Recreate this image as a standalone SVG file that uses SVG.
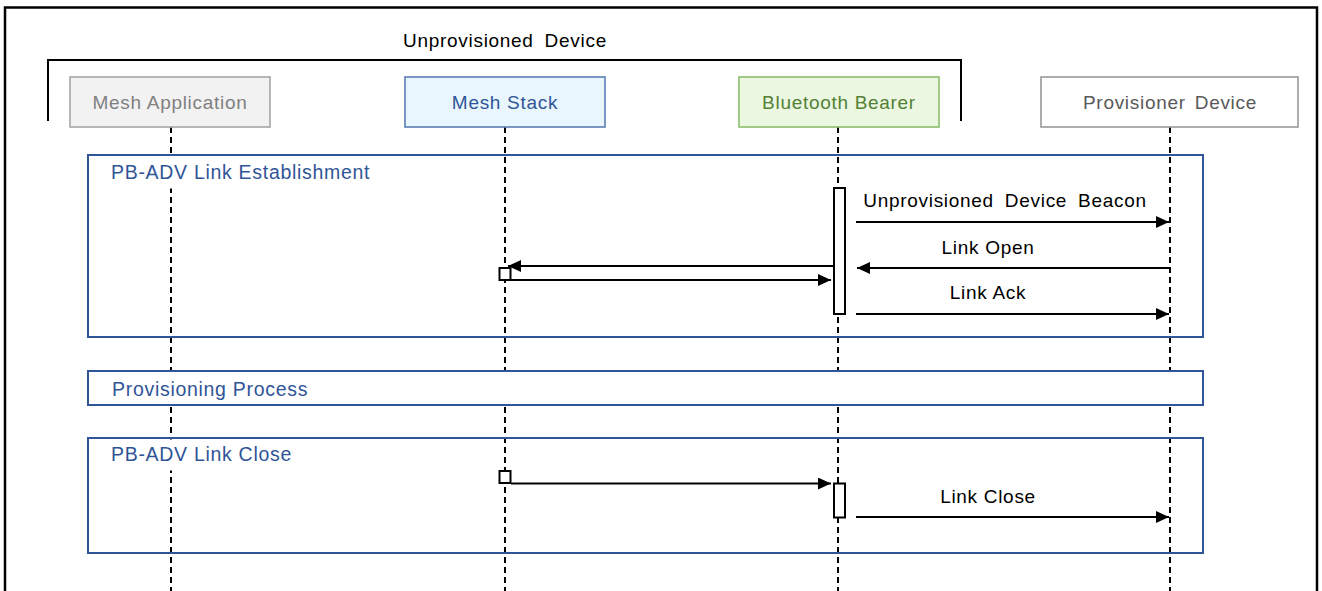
<svg xmlns="http://www.w3.org/2000/svg" width="1322" height="591" viewBox="0 0 1322 591">
<style>
text{font-family:"Liberation Sans",Arial,sans-serif;font-size:19px;letter-spacing:0.7px}
.node{stroke-width:1.6}
.life{stroke:#000;stroke-width:2;stroke-dasharray:6 4;fill:none}
.frame{fill:none;stroke:#2f5597;stroke-width:2}
.flabel{fill:#2f5597;font-size:19.5px}
.msg{stroke:#000;stroke-width:2;fill:none;marker-end:url(#ah)}
.act{fill:#fff;stroke:#000;stroke-width:2}
.mid{text-anchor:middle}
</style>
<defs>
<marker id="ah" markerUnits="userSpaceOnUse" markerWidth="13" markerHeight="12" refX="13" refY="6" orient="auto">
<path d="M0,0 L13,6 L0,12 z" fill="#000"/>
</marker>
</defs>
<rect width="1322" height="591" fill="#fff"/>
<g id="outer-frame">
<path d="M5,591 V7.5 H1317 V591" fill="none" stroke="#000" stroke-width="2.5"/>
</g>
<g id="unprovisioned-device">
<path d="M48,121 V60 H961 V121" fill="none" stroke="#000" stroke-width="2"/>
<text x="505" y="47" class="mid" fill="#000" word-spacing="5">Unprovisioned Device</text>
</g>
<g id="lifelines">
<line class="life" x1="171" y1="127" x2="171" y2="591"/>
<line class="life" x1="505" y1="127" x2="505" y2="591"/>
<line class="life" x1="838" y1="127" x2="838" y2="591"/>
<line class="life" x1="1170" y1="127" x2="1170" y2="591"/>
</g>
<g id="frame-link-establishment">
<rect class="frame" x="88" y="155" width="1115" height="182"/>
<rect x="90" y="156.5" width="290" height="32" fill="#fff"/>
<text x="111" y="179" class="flabel">PB-ADV Link Establishment</text>
</g>
<g id="frame-provisioning-process">
<rect x="88" y="371" width="1115" height="34" fill="#fff" stroke="#2f5597" stroke-width="2"/>
<text x="112" y="395.5" class="flabel">Provisioning Process</text>
</g>
<g id="frame-link-close">
<rect class="frame" x="88" y="438" width="1115" height="115"/>
<rect x="90" y="439.5" width="215" height="31" fill="#fff"/>
<text x="111" y="461" class="flabel">PB-ADV Link Close</text>
</g>
<g id="mesh-application">
<rect class="node" x="70" y="77" width="200" height="50" fill="#f2f2f2" stroke="#a6a6a6"/>
<text x="170" y="109" class="mid" fill="#808080">Mesh Application</text>
</g>
<g id="mesh-stack">
<rect class="node" x="405" y="77" width="200" height="50" fill="#eaf6fd" stroke="#5b7fb5"/>
<text x="505" y="109" class="mid" fill="#2f5597">Mesh Stack</text>
</g>
<g id="bluetooth-bearer">
<rect class="node" x="739" y="77" width="200" height="50" fill="#ebf7e1" stroke="#8bbf6c"/>
<text x="839" y="109" class="mid" fill="#538135">Bluetooth Bearer</text>
</g>
<g id="provisioner-device">
<rect class="node" x="1041" y="77" width="257" height="50" fill="#fff" stroke="#999"/>
<text x="1170" y="109" class="mid" fill="#595959" word-spacing="3">Provisioner Device</text>
</g>
<g id="activations">
<rect class="act" x="834" y="188" width="11" height="126"/>
<rect class="act" x="499.5" y="268" width="11" height="12"/>
<rect class="act" x="499.5" y="471" width="11" height="12"/>
<rect class="act" x="834" y="483.5" width="11" height="34"/>
</g>
<g id="connectors">
<path class="msg" d="M856,222 H1169"/>
<text x="1005" y="207" class="mid" fill="#000" word-spacing="5">Unprovisioned Device Beacon</text>
<path class="msg" d="M1169,268 H857"/>
<text x="988" y="254" class="mid" fill="#000">Link Open</text>
<path class="msg" d="M856,314 H1169"/>
<text x="988" y="299" class="mid" fill="#000">Link Ack</text>
<path class="msg" d="M834,266 H508"/>
<path class="msg" d="M511,280 H831"/>
<path class="msg" d="M511,483.5 H831"/>
<path class="msg" d="M856,517 H1169"/>
<text x="988" y="503" class="mid" fill="#000">Link Close</text>
</g>
</svg>
